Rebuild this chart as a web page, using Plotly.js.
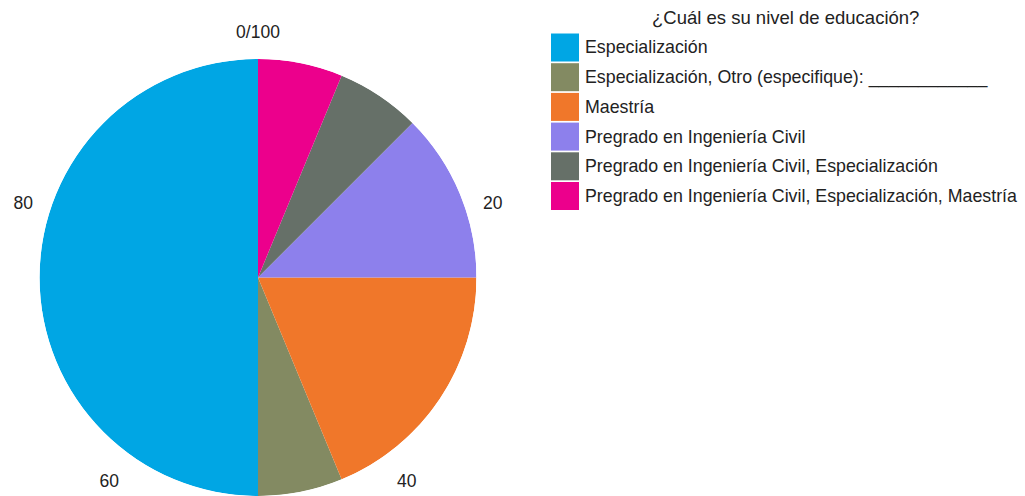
<!DOCTYPE html>
<html>
<head>
<meta charset="utf-8">
<script src="https://cdn.plot.ly/plotly-3.0.1.min.js"></script>
<style>html,body{margin:0;padding:0;background:#fff;}#chart{width:1025px;height:496px;}</style>
</head>
<body>
<div id="chart"></div>
<script>
const legendTitle = "¿Cuál es su nivel de educación?";
const categories = [
  "Especialización",
  "Especialización, Otro (especifique): ____________",
  "Maestría",
  "Pregrado en Ingeniería Civil",
  "Pregrado en Ingeniería Civil, Especialización",
  "Pregrado en Ingeniería Civil, Especialización, Maestría"
];
const values = [8, 1, 3, 2, 1, 1];
const colors = ["#00A6E4", "#838A62", "#F0772A", "#8D80EC", "#667068", "#EC008C"];
const tickValues = [0, 20, 40, 60, 80];
const tickLabels = ["0/100", "20", "40", "60", "80"];

const W = 1025, H = 496;
const FONT = "Liberation Sans, Arial, sans-serif";
const total = values.reduce((a, b) => a + b, 0);
// clockwise from top: last category first
const start = new Array(categories.length);
let acc = 0;
for (let i = categories.length - 1; i >= 0; i--) {
  start[i] = acc;
  acc += values[i] / total * 100;
}
const traces = categories.map((c, i) => {
  const pct = values[i] / total * 100;
  return {
    type: "barpolar",
    name: c,
    r: [1],
    theta: [(start[i] + pct / 2) * 3.6],
    width: [pct * 3.6],
    marker: {color: colors[i], line: {width: 0}},
    showlegend: false,
    hoverinfo: "name"
  };
});

const px = x => x / W, py = y => 1 - y / H;
const shapes = [], annotations = [];
annotations.push({
  xref: "paper", yref: "paper", x: px(785), y: py(18), xanchor: "center", yanchor: "middle",
  text: legendTitle, showarrow: false, font: {family: FONT, size: 18.5, color: "#222"}
});
categories.forEach((c, i) => {
  const cy = 47.5 + i * 29.7;
  shapes.push({type: "rect", xref: "paper", yref: "paper",
    x0: px(551), x1: px(579), y0: py(cy - 14), y1: py(cy + 14),
    fillcolor: colors[i], line: {width: 0}});
  annotations.push({xref: "paper", yref: "paper", x: px(583), y: py(cy), xanchor: "left", yanchor: "middle",
    text: c, showarrow: false, font: {family: FONT, size: 17.8, color: "#222"}});
});

const layout = {
  width: W, height: H,
  margin: {l: 0, r: 0, t: 0, b: 0},
  paper_bgcolor: "#fff",
  showlegend: false,
  font: {family: FONT, size: 17.5, color: "#222"},
  polar: {
    domain: {x: [px(38), px(478)], y: [0, py(59)]},
    bgcolor: "rgba(0,0,0,0)",
    bargap: 0,
    radialaxis: {visible: false, range: [0, 1]},
    angularaxis: {
      direction: "clockwise", rotation: 90,
      tickmode: "array",
      tickvals: tickValues.map(v => v * 3.6),
      ticktext: tickLabels,
      showgrid: false, showline: false,
      ticks: "outside", ticklen: 14, tickcolor: "rgba(0,0,0,0)",
      tickfont: {family: FONT, size: 17.5, color: "#222"}
    }
  },
  shapes: shapes,
  annotations: annotations
};
Plotly.newPlot("chart", traces, layout, {displayModeBar: false, staticPlot: true});
</script>
</body>
</html>
